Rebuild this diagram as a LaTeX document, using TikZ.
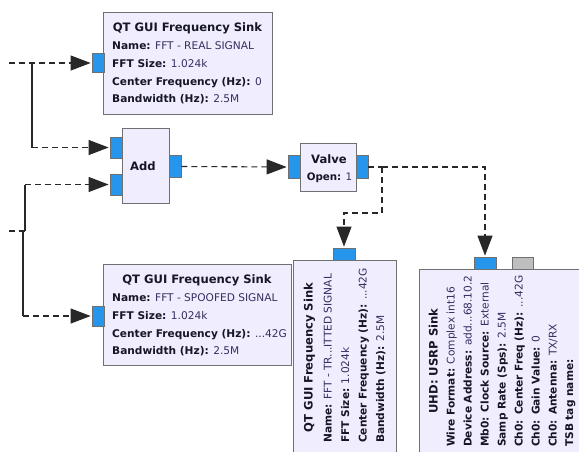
\documentclass[tikz,border=0pt]{standalone}
\usepackage{fontspec}
\setmainfont{DejaVu Sans}
\usetikzlibrary{arrows.meta}
\definecolor{boxfill}{RGB}{240,238,254}
\definecolor{boxdraw}{RGB}{112,112,112}
\definecolor{portblue}{RGB}{38,150,236}
\definecolor{portgray}{RGB}{190,190,190}
\definecolor{labelc}{RGB}{22,22,38}
\definecolor{valc}{RGB}{55,45,95}
\definecolor{wirec}{RGB}{40,40,40}
\newcommand{\grcline}[2]{{\bfseries\color{labelc}#1} {\color{valc}#2}}
\begin{document}
\begin{tikzpicture}[x=1pt,y=-1pt,
 block/.style={draw=boxdraw, fill=boxfill, line width=0.9pt, inner sep=0pt, anchor=north west},
 portb/.style={draw=boxdraw, fill=portblue, line width=0.8pt, inner sep=0pt},
 portg/.style={draw=boxdraw, fill=portgray, line width=0.8pt, inner sep=0pt},
 ttl/.style={font=\fontsize{11.6}{14}\selectfont\bfseries, text=labelc, inner sep=0pt, anchor=base},
 bodytxt/.style={font=\fontsize{10.6}{13}\selectfont, inner sep=0pt, anchor=base west},
 wire/.style={draw=wirec, line width=1.1pt, dash pattern=on 6pt off 4pt},
 solidwire/.style={draw=wirec, line width=1.1pt},
 arr/.style={-{Triangle[length=20pt,width=15pt]}, shorten >=1pt}
]
\clip (0,0) rectangle (579,451);
\fill[white] (0,0) rectangle (579,451);

% ---------- blocks ----------
\node[block, minimum width=169pt, minimum height=102pt] (ts) at (103,12) {};
\node[block, minimum width=47pt, minimum height=75pt] (add) at (122,128) {};
\node[block, minimum width=56pt, minimum height=48pt] (valve) at (300,143) {};
\node[block, minimum width=188pt, minimum height=101pt] (bs) at (103,264) {};
\node[block, minimum width=103pt, minimum height=195pt] (ms) at (293,260) {};
\node[block, minimum width=181pt, minimum height=187pt] (us) at (419,269) {};

% ---------- ports ----------
\node[portb, minimum width=12pt, minimum height=19pt] (tsin) at (98,63) {};
\node[portb, minimum width=12pt, minimum height=21pt] (addin1) at (116,147.5) {};
\node[portb, minimum width=12pt, minimum height=21pt] (addin2) at (116,184.5) {};
\node[portb, minimum width=12pt, minimum height=22pt] (addout) at (175,166.5) {};
\node[portb, minimum width=12pt, minimum height=23pt] (valin) at (294,167) {};
\node[portb, minimum width=12pt, minimum height=23pt] (valout) at (362,167) {};
\node[portb, minimum width=12pt, minimum height=20pt] (bsin) at (98,316) {};
\node[portb, minimum width=22pt, minimum height=12pt] (msin) at (344,254) {};
\node[portb, minimum width=22pt, minimum height=12pt] (usin) at (485,263) {};
\node[portg, minimum width=21pt, minimum height=12pt] (usg) at (522.5,263) {};

% ---------- texts: top sink ----------
\node[ttl] (tst) at (187.5,31.7) {QT GUI Frequency Sink};
\node[bodytxt] (ts1) at (112,49.5) {\grcline{Name:}{FFT - REAL SIGNAL}};
\node[bodytxt] (ts2) at (112,67.5) {\grcline{FFT Size:}{1.024k}};
\node[bodytxt] (ts3) at (112,85) {\grcline{Center Frequency (Hz):}{0}};
\node[bodytxt] (ts4) at (112,102.5) {\grcline{Bandwidth (Hz):}{2.5M}};

% ---------- add / valve ----------
\node[ttl] (addt) at (143,170) {Add};
\node[ttl] (valt) at (329,163.3) {Valve};
\node[bodytxt, anchor=base, font=\fontsize{10.3}{12}\selectfont] (valo) at (329.5,180.7) {\grcline{Open:}{1}};

% ---------- bottom sink ----------
\node[ttl] (bst) at (197,283.7) {QT GUI Frequency Sink};
\node[bodytxt] (bs1) at (112,301.5) {\grcline{Name:}{FFT - SPOOFED SIGNAL}};
\node[bodytxt] (bs2) at (112,319.5) {\grcline{FFT Size:}{1.024k}};
\node[bodytxt] (bs3) at (112,337) {\grcline{Center Frequency (Hz):}{...42G}};
\node[bodytxt] (bs4) at (112,354.5) {\grcline{Bandwidth (Hz):}{2.5M}};

% ---------- middle (rotated) sink ----------
\node[ttl, rotate=90] (mst) at (312.5,357.5) {QT GUI Frequency Sink};
\node[bodytxt, rotate=90] (ms1) at (331.5,443) {\grcline{Name:}{FFT - TR...ITTED SIGNAL}};
\node[bodytxt, rotate=90] (ms2) at (349,443) {\grcline{FFT Size:}{1.024k}};
\node[bodytxt, rotate=90] (ms3) at (366.5,443) {\grcline{Center Frequency (Hz):}{...42G}};
\node[bodytxt, rotate=90] (ms4) at (384,443) {\grcline{Bandwidth (Hz):}{2.5M}};

% ---------- USRP sink ----------
\node[ttl, rotate=90] (ust) at (437.5,361) {UHD: USRP Sink};
\node[bodytxt, rotate=90] (us1) at (454.5,447) {\grcline{Wire Format:}{Complex int16}};
\node[bodytxt, rotate=90] (us2) at (471.5,447) {\grcline{Device Address:}{add...68.10.2}};
\node[bodytxt, rotate=90] (us3) at (488.5,447) {\grcline{Mb0: Clock Source:}{External}};
\node[bodytxt, rotate=90] (us4) at (505.5,447) {\grcline{Samp Rate (Sps):}{2.5M}};
\node[bodytxt, rotate=90] (us5) at (522.5,447) {\grcline{Ch0: Center Freq (Hz):}{...42G}};
\node[bodytxt, rotate=90] (us6) at (539.5,447) {\grcline{Ch0: Gain Value:}{0}};
\node[bodytxt, rotate=90] (us7) at (556.5,447) {\grcline{Ch0: Antenna:}{TX/RX}};
\node[bodytxt, rotate=90] (us8) at (573,447) {\grcline{TSB tag name:}{}};

% ---------- wires ----------
\coordinate (s1) at (9,63);
\coordinate (j1) at (32,63);
\coordinate (j1d) at (32,147.5);
\draw[wire,arr] (s1) -- (tsin.west);
\draw[solidwire] (j1) -- (j1d);
\draw[wire,arr] (j1d) -- (addin1.west);

\coordinate (s2) at (9,231);
\coordinate (j2) at (25,231);
\coordinate (j2u) at (25,184.5);
\coordinate (j3) at (23,231);
\coordinate (j3d) at (23,316);
\draw[wire] (s2) -- (j2);
\draw[solidwire] (j2) -- (j2u);
\draw[wire,arr] (j2u) -- (addin2.west);
\draw[solidwire] (j3) -- (j3d);
\draw[wire,arr] (j3d) -- (bsin.west);

\draw[wire,arr] (addout.east) -- (valin.west);

\coordinate (j4) at (382,167);
\coordinate (j4d) at (382,213);
\draw[wire] (valout.east) -- (j4);
\draw[wire,arr] (j4) -- (j4d) -| (msin.north);
\draw[wire,arr] (j4) -| (usin.north);
\end{tikzpicture}
\end{document}
